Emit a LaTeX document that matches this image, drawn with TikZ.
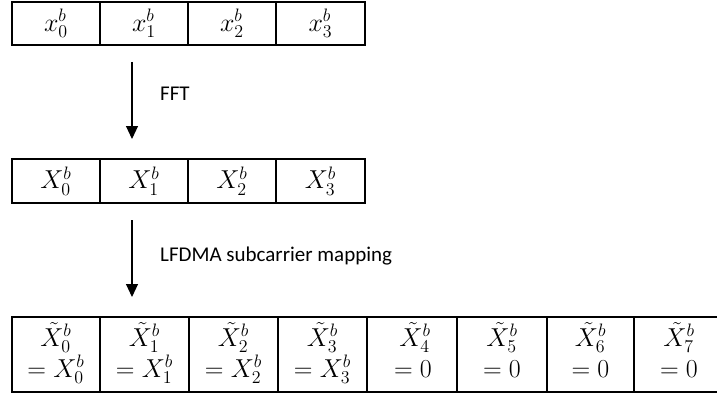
\documentclass[tikz,border=0pt]{standalone}
\usepackage{fontspec}
\setmainfont{Carlito}
\usetikzlibrary{arrows.meta}
\newcommand{\mym}[1]{\scalebox{1.25}{$#1$}}
\tikzset{
  cell/.style={draw, line width=1.2pt, inner sep=0pt, outer sep=0pt, minimum height=43pt,
    font=\fontsize{20.74}{25}\selectfont},
  tallcell/.style={draw, line width=1.2pt, inner sep=0pt, outer sep=0pt, minimum height=75pt},
  mtxt/.style={anchor=base, inner sep=0pt, font=\fontsize{20.74}{25}\selectfont},
  arr/.style={line width=1.1pt, -{Triangle[width=12pt,length=13pt]}},
  lbl/.style={anchor=west, inner sep=0pt, font=\fontsize{21}{25}\selectfont}
}
\begin{document}
\begin{tikzpicture}[x=1pt,y=-1pt]
\clip (0,0) rectangle (717,396);
% top row
\node[cell, minimum width=88pt] (t0) at (56,23.5) {\mym{x_0^b}};
\node[cell, minimum width=88pt] (t1) at (144,23.5) {\mym{x_1^b}};
\node[cell, minimum width=88pt] (t2) at (232,23.5) {\mym{x_2^b}};
\node[cell, minimum width=89pt] (t3) at (320.5,23.5) {\mym{x_3^b}};
% middle row
\node[cell, minimum width=88pt, minimum height=44pt] (m0) at (56,181) {\mym{X_0^b}};
\node[cell, minimum width=88pt, minimum height=44pt] (m1) at (144,181) {\mym{X_1^b}};
\node[cell, minimum width=88pt, minimum height=44pt] (m2) at (232,181) {\mym{X_2^b}};
\node[cell, minimum width=89pt, minimum height=44pt] (m3) at (320.5,181) {\mym{X_3^b}};
% bottom row
\node[tallcell, minimum width=88pt] (b0) at (56,354.5) {};
\node[tallcell, minimum width=89pt] (b1) at (144.5,354.5) {};
\node[tallcell, minimum width=89pt] (b2) at (233.5,354.5) {};
\node[tallcell, minimum width=89pt] (b3) at (322.5,354.5) {};
\node[tallcell, minimum width=90pt] (b4) at (412,354.5) {};
\node[tallcell, minimum width=90pt] (b5) at (502,354.5) {};
\node[tallcell, minimum width=87pt] (b6) at (590.5,354.5) {};
\node[tallcell, minimum width=90pt] (b7) at (679,354.5) {};
\node[mtxt] (u0) at (56,346) {\mym{\tilde{X}_0^b}};
\node[mtxt] (l0) at (56,377) {\mym{=X_0^b}};
\node[mtxt] (u1) at (144.5,346) {\mym{\tilde{X}_1^b}};
\node[mtxt] (l1) at (144.5,377) {\mym{=X_1^b}};
\node[mtxt] (u2) at (233.5,346) {\mym{\tilde{X}_2^b}};
\node[mtxt] (l2) at (233.5,377) {\mym{=X_2^b}};
\node[mtxt] (u3) at (322.5,346) {\mym{\tilde{X}_3^b}};
\node[mtxt] (l3) at (322.5,377) {\mym{=X_3^b}};
\node[mtxt] (u4) at (415,346) {\mym{\tilde{X}_4^b}};
\node[mtxt] (l4) at (413,377) {\mym{=0}};
\node[mtxt] (u5) at (502,346) {\mym{\tilde{X}_5^b}};
\node[mtxt] (l5) at (502,377) {\mym{=0}};
\node[mtxt] (u6) at (590.5,346) {\mym{\tilde{X}_6^b}};
\node[mtxt] (l6) at (590.5,377) {\mym{=0}};
\node[mtxt] (u7) at (679,346) {\mym{\tilde{X}_7^b}};
\node[mtxt] (l7) at (679,377) {\mym{=0}};
% arrows
\coordinate (a1s) at (132,62);
\coordinate (a1e) at (132,139);
\coordinate (a2s) at (132,220);
\coordinate (a2e) at (132,297);
\draw[arr] (a1s) -- (a1e);
\draw[arr] (a2s) -- (a2e);
\node[lbl] (fft) at (160,94) {FFT};
\node[lbl] (map) at (160,256) {LFDMA subcarrier mapping};
\end{tikzpicture}
\end{document}
